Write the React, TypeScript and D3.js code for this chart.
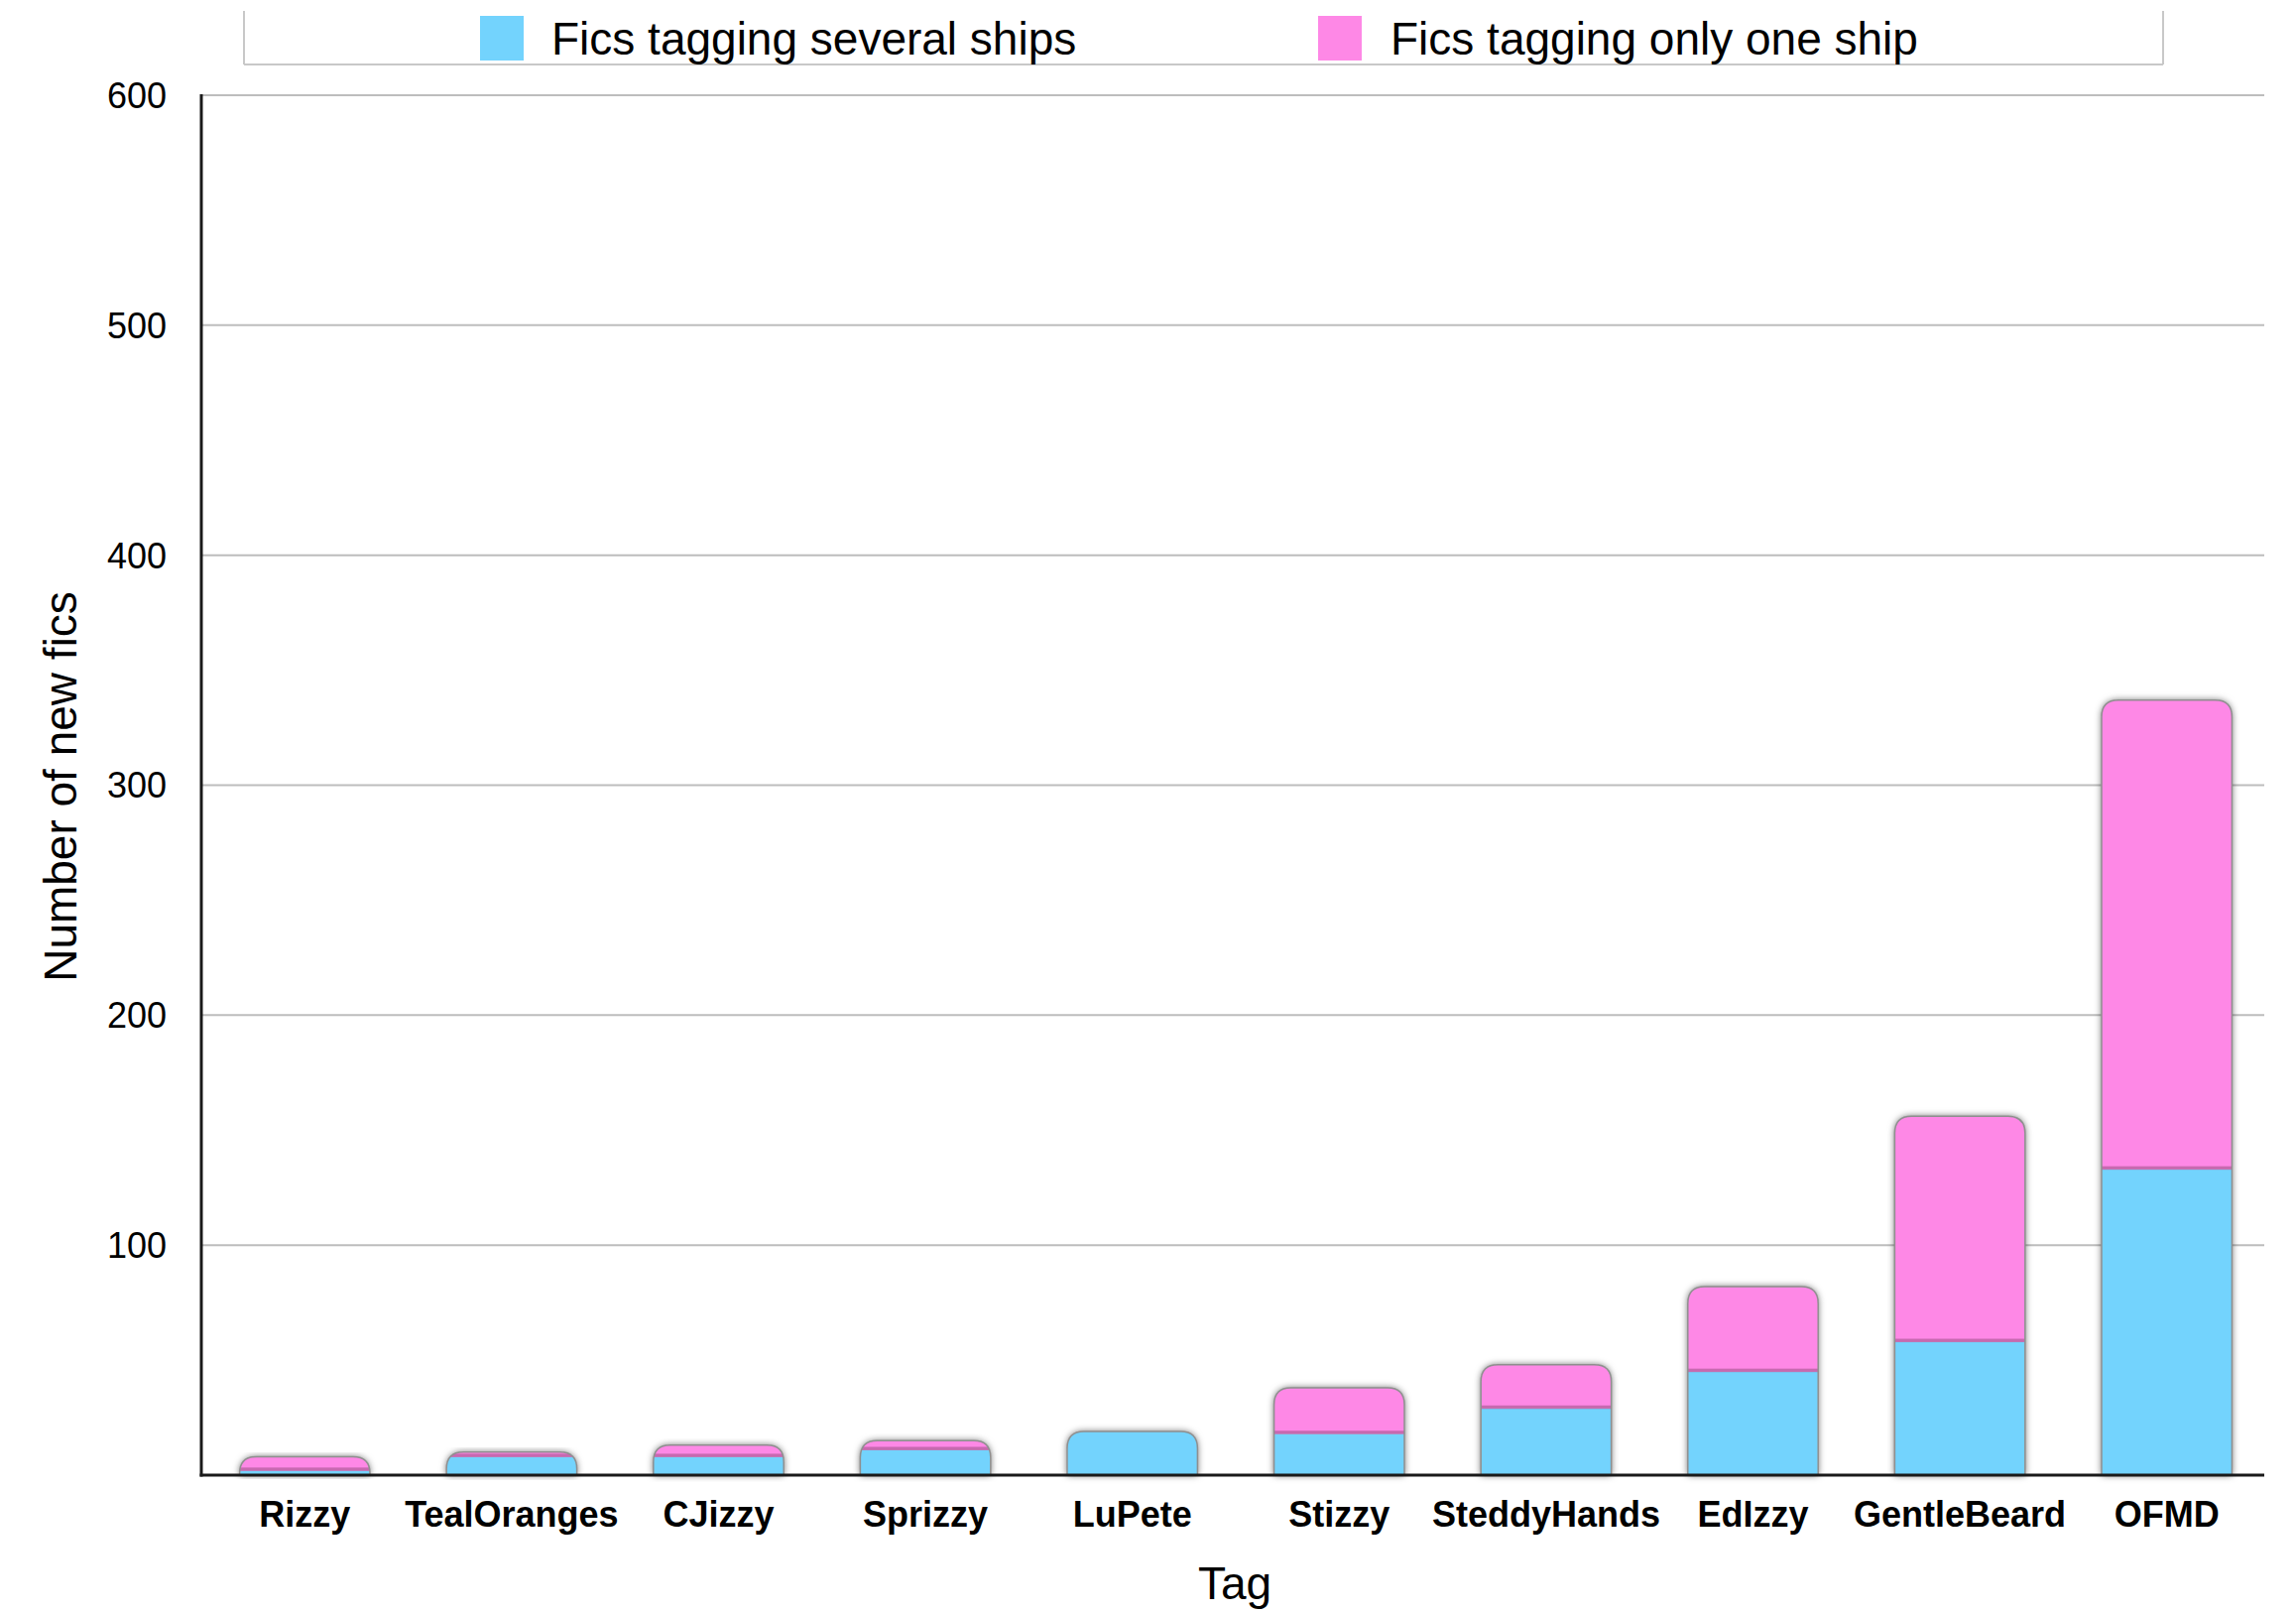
import React from "react";
import * as d3 from "d3";

const categories = ["Rizzy", "TealOranges", "CJizzy", "Sprizzy", "LuPete", "Stizzy", "SteddyHands", "EdIzzy", "GentleBeard", "OFMD"];
const severalShips = [2, 8, 8, 11, 19, 18, 29, 45, 58, 133];
const oneShip = [6, 2, 5, 4, 0, 20, 19, 37, 98, 204];
const yTicks = [100, 200, 300, 400, 500, 600];
const seriesNames = ["Fics tagging several ships", "Fics tagging only one ship"];

const W = 2315;
const H = 1626;
const BLUE = "#73d3fd";
const PINK = "#fe88e6";
const FONT = "'Liberation Sans', Arial, Helvetica, sans-serif";

function roundedTop(x: number, y: number, w: number, h: number, r: number) {
  const rr = Math.min(r, h, w / 2);
  return `M${x},${y + h} L${x},${y + rr} Q${x},${y} ${x + rr},${y} L${x + w - rr},${y} Q${x + w},${y} ${x + w},${y + rr} L${x + w},${y + h} Z`;
}

export default function App() {
  const left = 203, right = 2283, top = 96, bottom = 1487;
  const x = d3.scaleBand<string>().domain(categories).range([left, 2289]).paddingInner(0.37).paddingOuter(0.185);
  const y = d3.scaleLinear().domain([0, 600]).range([bottom, top]);
  const bw = x.bandwidth();
  const r = 17;

  return (
    <svg width={W} height={H} style={{ position: "absolute", left: 0, top: 0, display: "block", background: "#fff" }} fontFamily={FONT}>
      <defs>
        <filter id="shadow" x="-20%" y="-20%" width="140%" height="140%">
          <feDropShadow dx="0" dy="0" stdDeviation="3.5" floodColor="#000" floodOpacity="0.6" />
        </filter>
        {categories.map((c, i) => {
          const total = severalShips[i] + oneShip[i];
          const x0 = x(c)!;
          const y0 = y(total);
          return (
            <clipPath id={`clip${i}`} key={c}>
              <path d={roundedTop(x0, y0, bw, bottom - y0, r)} />
            </clipPath>
          );
        })}
      </defs>

      {/* legend box */}
      <g stroke="#c8c8c8" strokeWidth={2} fill="none">
        <line x1={246} y1={11} x2={246} y2={65} />
        <line x1={246} y1={65} x2={2181} y2={65} />
        <line x1={2181} y1={11} x2={2181} y2={65} />
      </g>
      <rect x={484} y={16} width={44} height={45} fill={BLUE} />
      <text x={556} y={55} fontSize={46} fill="#000">{seriesNames[0]}</text>
      <rect x={1329} y={16} width={44} height={45} fill={PINK} />
      <text x={1402} y={55} fontSize={46} fill="#000">{seriesNames[1]}</text>

      {/* gridlines */}
      {yTicks.map((t) => (
        <line key={t} x1={left} x2={right} y1={y(t)} y2={y(t)} stroke="#bdbdbd" strokeWidth={2} />
      ))}
      {/* y tick labels */}
      {yTicks.map((t) => (
        <text key={`l${t}`} x={168} y={y(t)} dy="0.36em" textAnchor="end" fontSize={36} fill="#000">{t}</text>
      ))}

      {/* bars */}
      {categories.map((c, i) => {
        const total = severalShips[i] + oneShip[i];
        const x0 = x(c)!;
        const yt = y(total);
        const yb = y(severalShips[i]);
        return (
          <g key={c}>
            <path d={roundedTop(x0, yt, bw, bottom - yt, r)} fill="#fff" filter="url(#shadow)" />
            <g clipPath={`url(#clip${i})`}>
              <rect x={x0} y={yb} width={bw} height={bottom - yb} fill={BLUE} />
              {oneShip[i] > 0 && <rect x={x0} y={yt} width={bw} height={yb - yt} fill={PINK} />}
              {oneShip[i] > 0 && (
                <rect x={x0} y={yb - 3} width={bw} height={3.5} fill="#b45f9e" opacity={0.75} />
              )}
            </g>
            <path d={roundedTop(x0, yt, bw, bottom - yt, r)} fill="none" stroke="#8f8f8f" strokeWidth={1.5} />
          </g>
        );
      })}

      {/* axes */}
      <line x1={left} x2={left} y1={top - 1} y2={bottom + 1.5} stroke="#1a1a1a" strokeWidth={3} />
      <line x1={left - 1.5} x2={right} y1={bottom} y2={bottom} stroke="#1a1a1a" strokeWidth={3} />

      {/* x tick labels */}
      {categories.map((c) => (
        <text key={`x${c}`} x={x(c)! + bw / 2} y={1539} textAnchor="middle" fontSize={36} fontWeight="bold" fill="#000">{c}</text>
      ))}

      {/* axis titles */}
      <text x={1245} y={1612} textAnchor="middle" fontSize={46} fill="#000">Tag</text>
      <text transform={`translate(77,793) rotate(-90)`} textAnchor="middle" fontSize={46} fill="#000">Number of new fics</text>
    </svg>
  );
}
